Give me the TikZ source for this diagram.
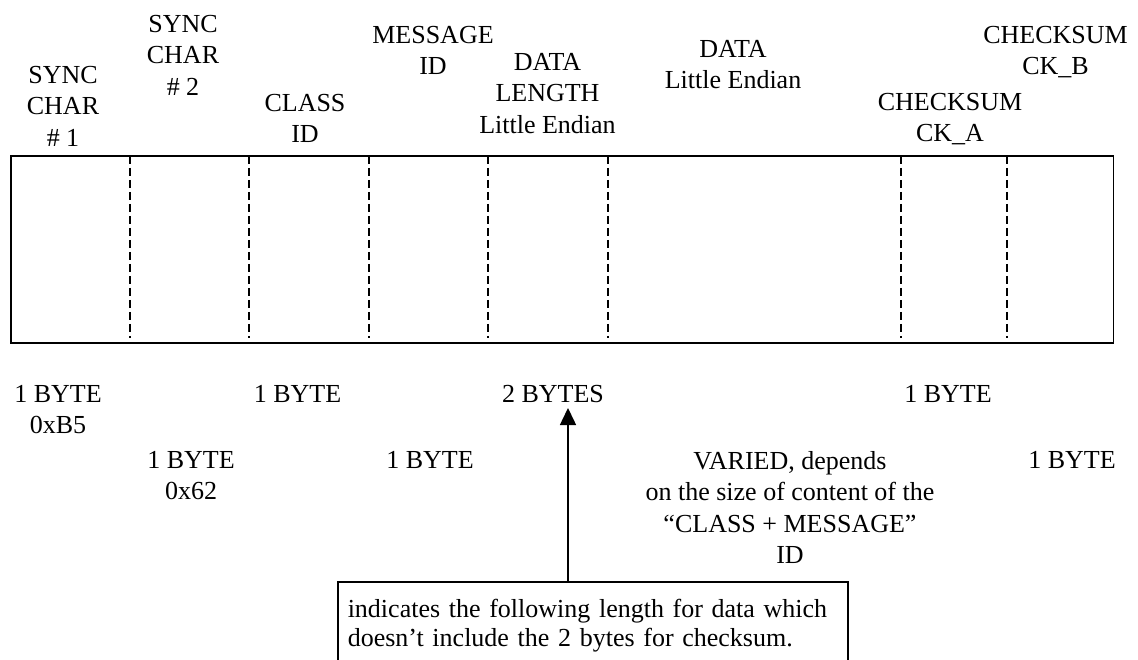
\documentclass[tikz,border=0pt]{standalone}
\usepackage{fontspec}
\setmainfont{Liberation Serif}
\usetikzlibrary{arrows.meta}
\begin{document}
\begin{tikzpicture}[x=1pt,y=-1pt,
  lbl/.style={anchor=north,inner sep=0pt,align=center,font=\fontsize{26}{31.5}\selectfont},
  field/.style={draw,line width=1.6pt,anchor=north west,inner sep=0pt},
  sep/.style={line width=1.5pt,dash pattern=on 8pt off 4pt},
  note/.style={draw,line width=1.5pt,anchor=north west,inner xsep=10pt,inner ysep=16pt,text width=490pt,align=left,font=\fontsize{26}{28.5}\selectfont},
  arr/.style={line width=1.5pt,-{Triangle[length=17pt,width=16pt]}}]
\useasboundingbox (0,0) rectangle (1138,660);
\begin{scope}
\clip (0,0) rectangle (1138,660);
% frame
\node[field,minimum width=1102.5pt,minimum height=186.5pt] (frame) at (10,155.5) {};
\foreach \x in {130,249,369,488,608,901,1007}
  \draw[sep] (\x,156) -- (\x,338);
% header labels
\node[lbl] (h1) at (63,61) {\strut SYNC\\CHAR\\\# 1};
\node[lbl] (h2) at (183,10) {\strut SYNC\\CHAR\\\# 2};
\node[lbl] (h3) at (305,89) {\strut CLASS\\ID};
\node[lbl] (h4) at (433,21) {\strut MESSAGE\\ID};
\node[lbl] (h5) at (547.5,48) {\strut DATA\\LENGTH\\Little Endian};
\node[lbl] (h6) at (733,35) {\strut DATA\\Little Endian};
\node[lbl] (h7) at (1055.5,21) {\strut CHECKSUM\\CK\_B};
\node[lbl] (h8) at (950,88) {\strut CHECKSUM\\CK\_A};
% size labels
\node[lbl] (b1) at (58,380) {\strut 1 BYTE\\0xB5};
\node[lbl] (b2) at (191,446) {\strut 1 BYTE\\0x62};
\node[lbl] (b3) at (297.5,380) {\strut 1 BYTE};
\node[lbl] (b4) at (430,446) {\strut 1 BYTE};
\node[lbl] (b5) at (553,380) {\strut 2 BYTES};
\node[lbl] (b6) at (790,447) {\strut VARIED, depends\\on the size of content of the\\“CLASS + MESSAGE”\\ID};
\node[lbl] (b7) at (948,380) {\strut 1 BYTE};
\node[lbl] (b8) at (1072,446) {\strut 1 BYTE};
% note
\node[note] (note) at (337,581) {\strut indicates the following length for data which\\doesn’t include the 2 bytes for checksum.};
\coordinate (tip) at (568,408);
\draw[arr] (note.north -| tip) -- (tip);
\end{scope}
\end{tikzpicture}
\end{document}
